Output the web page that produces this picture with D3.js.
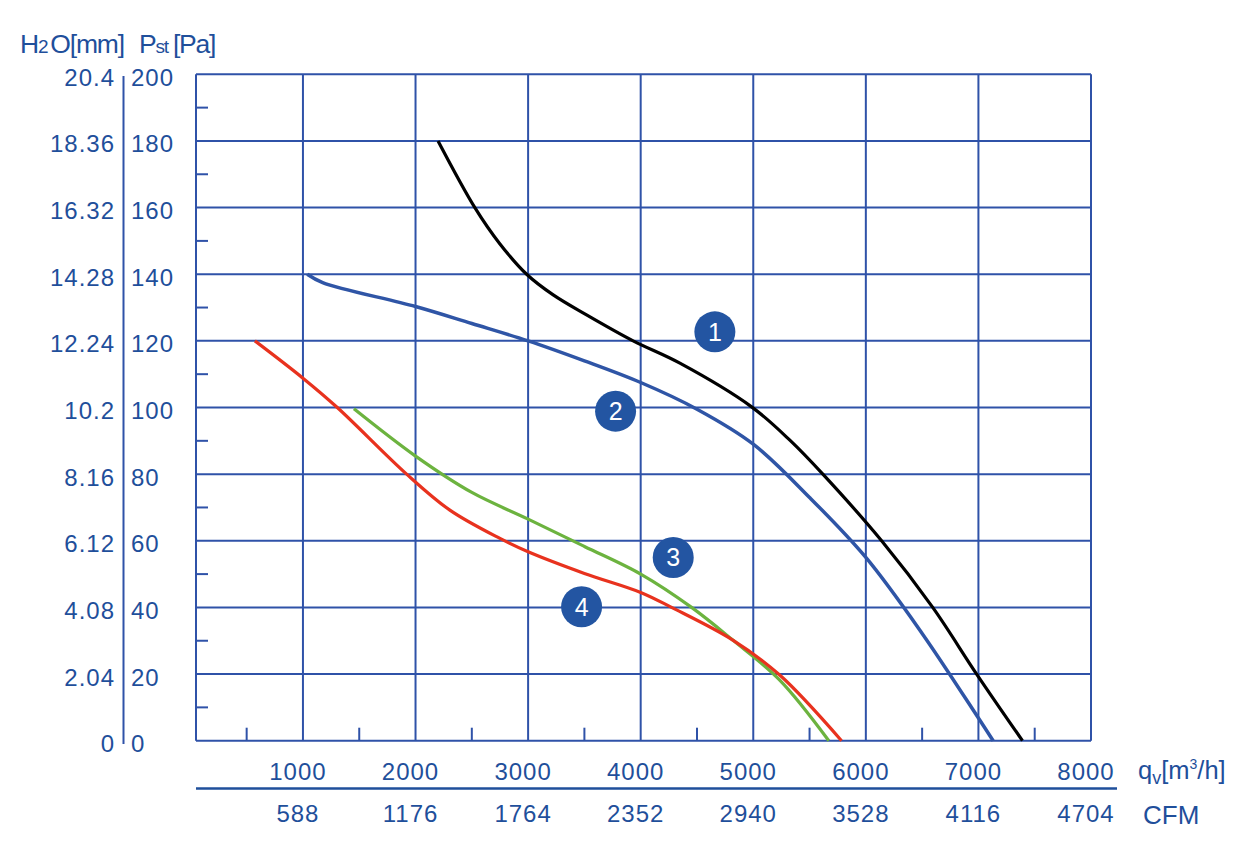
<!DOCTYPE html>
<html>
<head>
<meta charset="utf-8">
<script src="https://cdn.jsdelivr.net/npm/d3@7"></script>
<style>
  body { margin: 0; background: #fff; }
  svg { display: block; font-family: "Liberation Sans", Arial, sans-serif; }
</style>
</head>
<body>
<script>
// data
const pa_ticks = [0, 20, 40, 60, 80, 100, 120, 140, 160, 180, 200];
const mm_labels = ["0", "2.04", "4.08", "6.12", "8.16", "10.2", "12.24", "14.28", "16.32", "18.36", "20.4"];
const q_ticks = [1000, 2000, 3000, 4000, 5000, 6000, 7000, 8000];
const cfm_labels = ["588", "1176", "1764", "2352", "2940", "3528", "4116", "4704"];

const curve1_q = [2200, 2527, 2750, 2987, 3223, 3519, 3933, 4348, 4985, 5325, 5618, 6140, 6594, 6984, 7391];
const curve1_p = [180, 160, 149.1, 140, 133.8, 127.8, 120, 113.3, 100.2, 90.2, 80, 60, 40, 20, 0];
const curve2_q = [1038, 1175, 2000, 2500, 3000, 3500, 4000, 4500, 5000, 5500, 6000, 6500, 7000, 7131];
const curve2_p = [140, 137.5, 130.3, 125.2, 120, 114, 107.5, 99.5, 89, 73, 55, 32.2, 6.8, 0];
const curve3_q = [1453, 2000, 2500, 3000, 3500, 4000, 4452, 4818, 5235, 5671];
const curve3_p = [99.6, 85.4, 74.5, 66.5, 58.3, 50, 40, 30.2, 18.2, 0];
const curve4_q = [573, 1000, 1305, 1921, 2305, 2750, 3000, 3500, 4000, 4274, 4818, 5235, 5784];
const curve4_p = [120, 108.8, 100, 80, 69.2, 60.7, 56.7, 50.2, 44.5, 40, 30.2, 19.7, 0];

const badge_names = ["1", "2", "3", "4"];
const badge_q = [4659, 3777, 4289, 3475];
const badge_p = [122.7, 98.9, 55, 40.2];

const BLUE_TEXT = "#1f4f9b";
const GRID = "#2f52a8";
const colours = ["#000000", "#2f55a6", "#6cb33f", "#e8321e"];

const width = 1258, height = 859;
const svg = d3.select("body").append("svg")
    .attr("width", width)
    .attr("height", height);

const x = d3.scaleLinear().domain([50, 8000]).range([196, 1091]);
const y = d3.scaleLinear().domain([0, 200]).range([740.7, 74.3]);

const grid = svg.append("g").attr("stroke", GRID).attr("stroke-width", 2).attr("fill", "none");

// horizontal grid
grid.selectAll("line.h")
    .data(pa_ticks)
    .enter().append("line")
    .attr("class", "h")
    .attr("x1", x(50)).attr("x2", x(8000))
    .attr("y1", d => y(d)).attr("y2", d => y(d));

// vertical grid
grid.selectAll("line.v")
    .data([50].concat(q_ticks))
    .enter().append("line")
    .attr("class", "v")
    .attr("x1", d => x(d)).attr("x2", d => x(d))
    .attr("y1", y(0)).attr("y2", y(200));

// minor ticks on the left
grid.selectAll("line.ml")
    .data(d3.range(10, 200, 20))
    .enter().append("line")
    .attr("x1", x(50)).attr("x2", x(50) + 12)
    .attr("y1", d => y(d)).attr("y2", d => y(d));

// minor ticks at the bottom
grid.selectAll("line.mb")
    .data(d3.range(500, 8000, 1000))
    .enter().append("line")
    .attr("x1", d => x(d)).attr("x2", d => x(d))
    .attr("y1", y(0)).attr("y2", y(0) - 13);

// left label block
svg.append("line")
    .attr("x1", 123.5).attr("x2", 123.5)
    .attr("y1", 76).attr("y2", 744)
    .attr("stroke", GRID).attr("stroke-width", 2);

svg.append("g").selectAll("text")
    .data(pa_ticks)
    .enter().append("text")
    .attr("x", 131)
    .attr("y", d => y(d) + 11.5)
    .attr("fill", BLUE_TEXT)
    .attr("font-size", 24)
    .attr("letter-spacing", 1)
    .text(d => d);

svg.append("g").selectAll("text")
    .data(mm_labels)
    .enter().append("text")
    .attr("x", 115)
    .attr("y", (d, i) => y(pa_ticks[i]) + 11.5)
    .attr("text-anchor", "end")
    .attr("fill", BLUE_TEXT)
    .attr("font-size", 24)
    .attr("letter-spacing", 1)
    .text(d => d);

// bottom labels
svg.append("g").selectAll("text")
    .data(q_ticks)
    .enter().append("text")
    .attr("x", d => x(d) - 5)
    .attr("y", 780)
    .attr("text-anchor", "middle")
    .attr("fill", BLUE_TEXT)
    .attr("font-size", 24)
    .attr("letter-spacing", 1)
    .text(d => d);

svg.append("line")
    .attr("x1", 196).attr("x2", 1117)
    .attr("y1", 788.5).attr("y2", 788.5)
    .attr("stroke", BLUE_TEXT).attr("stroke-width", 2.5);

svg.append("g").selectAll("text")
    .data(cfm_labels)
    .enter().append("text")
    .attr("x", (d, i) => x(q_ticks[i]) - 5)
    .attr("y", 822)
    .attr("text-anchor", "middle")
    .attr("fill", BLUE_TEXT)
    .attr("font-size", 24)
    .attr("letter-spacing", 1)
    .text(d => d);

// axis titles
const head = svg.append("text")
    .attr("x", 20).attr("y", 53)
    .attr("fill", BLUE_TEXT)
    .attr("font-size", 26.5)
    .attr("letter-spacing", -1.2);
head.append("tspan").text("H");
head.append("tspan").attr("font-size", 19).text("2");
head.append("tspan").attr("dx", 3).text("O[mm]");

const head2 = svg.append("text")
    .attr("x", 139).attr("y", 53)
    .attr("fill", BLUE_TEXT)
    .attr("font-size", 26.5)
    .attr("letter-spacing", -1.2);
head2.append("tspan").text("P");
head2.append("tspan").attr("font-size", 19).text("st");
head2.append("tspan").attr("dx", 5).text("[Pa]");

const qv = svg.append("text")
    .attr("x", 1138).attr("y", 779)
    .attr("fill", BLUE_TEXT)
    .attr("font-size", 25.5);
qv.append("tspan").text("q");
qv.append("tspan").attr("font-size", 18).attr("dy", 5).text("v");
qv.append("tspan").attr("dy", -5).text("[m");
qv.append("tspan").attr("font-size", 14).attr("dy", -10).text("3");
qv.append("tspan").attr("dy", 10).text("/h]");

svg.append("text")
    .attr("x", 1143).attr("y", 824)
    .attr("fill", BLUE_TEXT)
    .attr("font-size", 26)
    .text("CFM");

// curves
const line = d3.line()
    .x(d => x(d[0]))
    .y(d => y(d[1]))
    .curve(d3.curveCatmullRom.alpha(0.5));

const curves = [
    d3.zip(curve1_q, curve1_p),
    d3.zip(curve2_q, curve2_p),
    d3.zip(curve3_q, curve3_p),
    d3.zip(curve4_q, curve4_p)
];

svg.append("g").selectAll("path")
    .data(curves)
    .enter().append("path")
    .attr("d", line)
    .attr("fill", "none")
    .attr("stroke", (d, i) => colours[i])
    .attr("stroke-width", (d, i) => i === 1 ? 3.5 : 3.2);

// numbered badges
const badges = svg.append("g").selectAll("g")
    .data(badge_names)
    .enter().append("g")
    .attr("transform", (d, i) => `translate(${x(badge_q[i])},${y(badge_p[i])})`);

badges.append("circle")
    .attr("r", 20.5)
    .attr("fill", "#2355a2");

badges.append("text")
    .attr("text-anchor", "middle")
    .attr("y", 9)
    .attr("fill", "#fff")
    .attr("font-size", 25)
    .text(d => d);
</script>
</body>
</html>
